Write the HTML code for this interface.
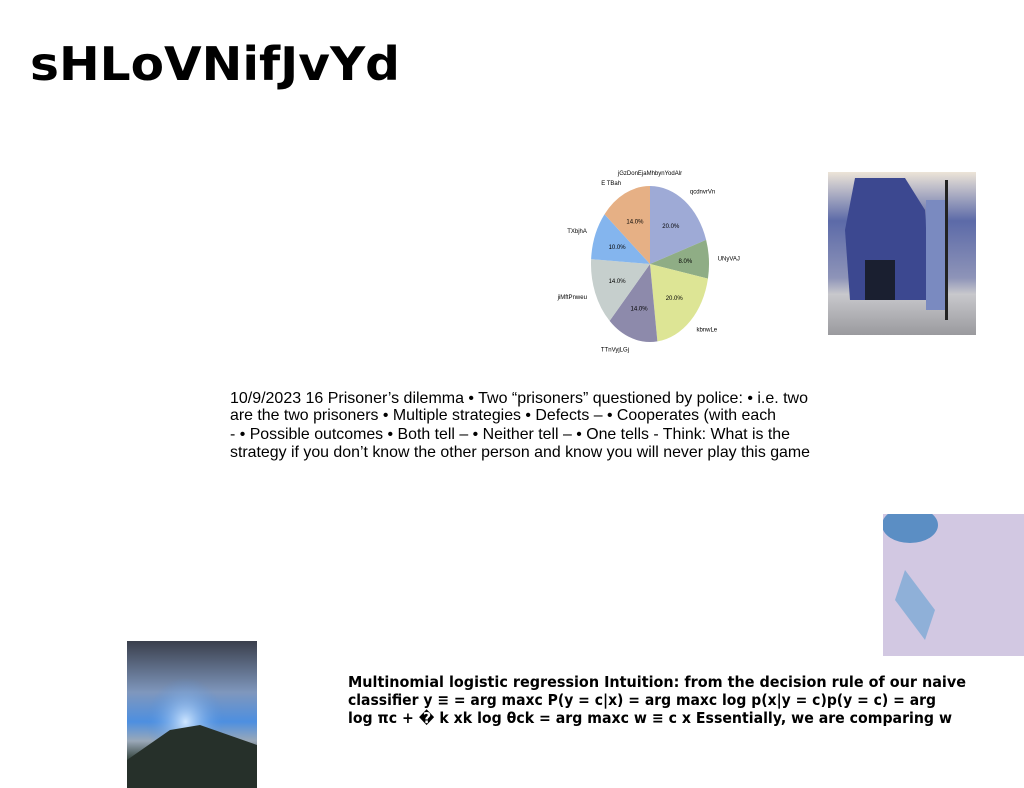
<!DOCTYPE html>
<html><head><meta charset="utf-8"><style>
html,body{margin:0;padding:0;background:#fff;width:1024px;height:788px;overflow:hidden}
svg{position:absolute;left:0;top:0}
</style></head><body>
<svg width="1024" height="788" viewBox="0 0 1024 788">
<defs>
<linearGradient id="sea" x1="0" y1="0" x2="0" y2="1">
<stop offset="0" stop-color="#3a3f4c"/><stop offset="0.35" stop-color="#7f97bd"/><stop offset="0.55" stop-color="#4d8fe0"/><stop offset="0.68" stop-color="#9aa8b8"/><stop offset="0.8" stop-color="#3a4a44"/><stop offset="1" stop-color="#1d2420"/></linearGradient>
<radialGradient id="sun" cx="0.45" cy="0.55" r="0.3"><stop offset="0" stop-color="#cfe6ff"/><stop offset="1" stop-color="#4d8fe0" stop-opacity="0"/></radialGradient>
<linearGradient id="street" x1="0" y1="0" x2="0" y2="1"><stop offset="0" stop-color="#ece4d8"/><stop offset="0.3" stop-color="#5c6aa8"/><stop offset="0.65" stop-color="#8e94b8"/><stop offset="0.75" stop-color="#c8c8cc"/><stop offset="1" stop-color="#9a9a9e"/></linearGradient>
<clipPath id="pillclip"><rect x="883" y="514" width="141" height="142"/></clipPath>
</defs>
<text x="30" y="80" font-family="DejaVu Sans, sans-serif" font-weight="bold" font-size="46" textLength="370" lengthAdjust="spacingAndGlyphs">sHLoVNifJvYd</text>

<g id="pie"></g>

<g>
<rect x="828" y="172" width="148" height="163" fill="url(#street)"/>
<polygon points="855,178 905,178 925,210 930,300 850,300 845,230" fill="#3c4890"/>
<rect x="865" y="260" width="30" height="40" fill="#1a1f30"/>
<rect x="926" y="200" width="22" height="110" fill="#7a8ac0"/>
<rect x="945" y="180" width="3" height="140" fill="#222"/>
</g>

<text font-family="Liberation Sans, sans-serif" font-size="16" fill="#000">
<tspan x="230" y="403" textLength="578" lengthAdjust="spacingAndGlyphs">10/9/2023 16 Prisoner’s dilemma • Two “prisoners” questioned by police: • i.e. two</tspan>
<tspan x="230" y="420" textLength="546" lengthAdjust="spacingAndGlyphs">are the two prisoners • Multiple strategies • Defects – • Cooperates (with each</tspan>
<tspan x="230" y="439" textLength="560" lengthAdjust="spacingAndGlyphs">- • Possible outcomes • Both tell – • Neither tell – • One tells - Think: What is the</tspan>
<tspan x="230" y="457" textLength="580" lengthAdjust="spacingAndGlyphs">strategy if you don’t know the other person and know you will never play this game</tspan>
</text>

<g clip-path="url(#pillclip)">
<rect x="883" y="514" width="141" height="142" fill="#d2c8e2"/>
<ellipse cx="910" cy="525" rx="28" ry="18" fill="#5b8ec4"/>
<polygon points="905,570 935,610 925,640 895,600" fill="#8fb0d8"/>
</g>

<g>
<rect x="127" y="641" width="130" height="147" fill="url(#sea)"/>
<rect x="127" y="641" width="130" height="147" fill="url(#sun)"/>
<polygon points="127,760 170,730 200,725 257,745 257,788 127,788" fill="#26302a"/>
</g>

<text font-family="DejaVu Sans, sans-serif" font-weight="bold" font-size="15" fill="#000">
<tspan x="348" y="687" textLength="618" lengthAdjust="spacingAndGlyphs">Multinomial logistic regression Intuition: from the decision rule of our naive</tspan>
<tspan x="348" y="705" textLength="588" lengthAdjust="spacingAndGlyphs">classifier y ≡ = arg maxc P(y = c|x) = arg maxc log p(x|y = c)p(y = c) = arg</tspan>
<tspan x="348" y="723" textLength="604" lengthAdjust="spacingAndGlyphs">log πc + � k xk log θck = arg maxc w ≡ c x Essentially, we are comparing w</tspan>
</text>
</svg>
<script>
const labels=["qcdnvrVn","UNyVAJ","kbnwLe","TTnVyjLGj","jiMftPnweu","TXbjhA","E  TBah"];
const values=[20,8,20,14,14,10,14];
const colors=["#9eaad6","#8fad85","#dde595","#8d8aab","#c6cfcd","#84b5ee","#e6b085"];
const NS="http://www.w3.org/2000/svg";
const g=document.getElementById("pie");
const cx=650,cy=264,rx=59,ry=78;
const total=values.reduce((a,b)=>a+b,0);
function pt(a,s){return [cx+rx*s*Math.sin(a),cy-ry*s*Math.cos(a)];}
const t=document.createElementNS(NS,"text");
t.setAttribute("x",cx);t.setAttribute("y",175);t.setAttribute("text-anchor","middle");
t.setAttribute("font-family","Liberation Sans, sans-serif");t.setAttribute("font-size","6");
t.textContent="jGzDonEjaMhbynYodAlr";


g.appendChild(t);
let acc=0;
values.forEach((v,i)=>{
  const a0=acc/total*2*Math.PI; acc+=v; const a1=acc/total*2*Math.PI;
  const p0=pt(a0,1),p1=pt(a1,1);
  const large=(a1-a0)>Math.PI?1:0;
  const p=document.createElementNS(NS,"path");
  p.setAttribute("d",`M${cx},${cy}L${p0[0]},${p0[1]}A${rx},${ry} 0 ${large} 1 ${p1[0]},${p1[1]}Z`);
  p.setAttribute("fill",colors[i]);
  
  
  g.appendChild(p);
  const am=(a0+a1)/2;
  const pp=pt(am,0.6);
  const pct=document.createElementNS(NS,"text");
  pct.setAttribute("x",pp[0]);pct.setAttribute("y",pp[1]+2);pct.setAttribute("text-anchor","middle");
  pct.setAttribute("font-family","Liberation Sans, sans-serif");pct.setAttribute("font-size","6");
  pct.textContent=(v/total*100).toFixed(1)+"%";
  
  
  g.appendChild(pct);
  const lp=pt(am,1.15);
  const lb=document.createElementNS(NS,"text");
  lb.setAttribute("x",lp[0]);lb.setAttribute("y",lp[1]+2);
  lb.setAttribute("text-anchor",Math.sin(am)>0.05?"start":(Math.sin(am)<-0.05?"end":"middle"));
  lb.setAttribute("font-family","Liberation Sans, sans-serif");lb.setAttribute("font-size","6");
  lb.textContent=labels[i];
  
  
  g.appendChild(lb);
});
</script>
</body></html>
